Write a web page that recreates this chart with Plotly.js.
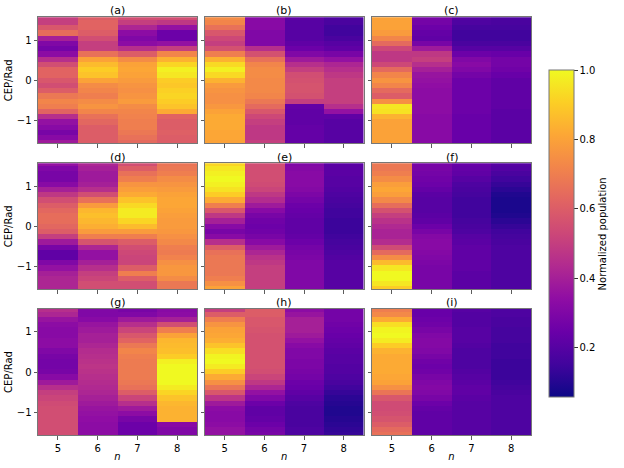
<!DOCTYPE html>
<html>
<head>
<meta charset="utf-8">
<script src="https://cdn.plot.ly/plotly-3.0.1.min.js"></script>
<style>html,body{margin:0;padding:0;background:#fff}#plot{width:624px;height:468px}</style>
</head>
<body>
<div id="plot"></div>
<script>
// Harmonic order n (columns)
const nVals = [5, 6, 7, 8];
// CEP row positions (rad), listed top to bottom
const cepTopDown = [1.571, 1.440, 1.309, 1.178, 1.047, 0.916, 0.785, 0.654, 0.524, 0.393, 0.262, 0.131, 0.000,
  -0.131, -0.262, -0.393, -0.524, -0.654, -0.785, -0.916, -1.047, -1.178, -1.309, -1.440, -1.571];
const yTickVals = [-1, 0, 1];
const yTickText = ['\u22121', '0', '1'];
const cbTickVals = [0.2, 0.4, 0.6, 0.8, 1.0];
const panelLabels = ['(a)', '(b)', '(c)', '(d)', '(e)', '(f)', '(g)', '(h)', '(i)'];

// Normalized population, one array per panel column (n = 5..8), top to bottom
const a5 = [0.50,0.50,0.58,0.65,0.40,0.30,0.27,0.33,0.45,0.55,0.62,0.62,0.58,0.55,0.60,0.68,0.72,0.70,0.62,0.45,0.35,0.32,0.28,0.32,0.38];
const a6 = [0.60,0.62,0.62,0.60,0.55,0.50,0.50,0.66,0.80,0.86,0.90,0.88,0.80,0.74,0.72,0.70,0.74,0.76,0.72,0.66,0.63,0.60,0.60,0.60,0.60];
const a7 = [0.55,0.50,0.42,0.33,0.30,0.33,0.45,0.60,0.74,0.80,0.81,0.80,0.78,0.76,0.75,0.76,0.78,0.74,0.72,0.71,0.70,0.70,0.68,0.66,0.64];
const a8 = [0.55,0.48,0.35,0.25,0.25,0.35,0.50,0.72,0.84,0.92,0.98,0.96,0.90,0.89,0.91,0.92,0.90,0.88,0.82,0.62,0.60,0.60,0.61,0.60,0.60];

const b5 = [0.74,0.72,0.66,0.58,0.53,0.50,0.56,0.70,0.84,0.93,0.98,0.93,0.84,0.78,0.76,0.75,0.75,0.77,0.80,0.82,0.82,0.82,0.81,0.81,0.80];
const b6 = [0.32,0.32,0.32,0.30,0.30,0.30,0.45,0.56,0.66,0.72,0.74,0.74,0.73,0.73,0.73,0.72,0.68,0.64,0.58,0.53,0.50,0.48,0.48,0.48,0.50];
const b7 = [0.22,0.20,0.20,0.20,0.20,0.22,0.25,0.30,0.38,0.45,0.50,0.55,0.56,0.57,0.57,0.56,0.50,0.23,0.22,0.22,0.22,0.23,0.23,0.23,0.23];
const b8 = [0.18,0.17,0.15,0.15,0.17,0.20,0.22,0.28,0.35,0.42,0.45,0.48,0.50,0.50,0.50,0.50,0.50,0.45,0.35,0.22,0.20,0.20,0.20,0.20,0.20];

const c5 = [0.80,0.80,0.80,0.78,0.72,0.64,0.53,0.48,0.48,0.53,0.64,0.72,0.76,0.72,0.64,0.60,0.75,0.96,0.95,0.84,0.80,0.80,0.80,0.80,0.80];
const c6 = [0.28,0.27,0.25,0.23,0.22,0.28,0.38,0.48,0.50,0.45,0.40,0.36,0.35,0.34,0.33,0.33,0.33,0.33,0.33,0.32,0.32,0.32,0.32,0.32,0.32];
const c7 = [0.20,0.18,0.16,0.15,0.15,0.17,0.20,0.25,0.30,0.32,0.30,0.27,0.25,0.25,0.25,0.25,0.25,0.25,0.25,0.24,0.24,0.24,0.24,0.24,0.24];
const c8 = [0.18,0.17,0.16,0.15,0.15,0.17,0.20,0.24,0.27,0.27,0.26,0.24,0.22,0.22,0.22,0.22,0.22,0.22,0.21,0.21,0.21,0.21,0.21,0.21,0.21];

const d5 = [0.35,0.30,0.28,0.28,0.32,0.40,0.48,0.55,0.60,0.63,0.65,0.65,0.63,0.60,0.50,0.38,0.28,0.22,0.22,0.30,0.35,0.40,0.42,0.42,0.42];
const d6 = [0.42,0.40,0.38,0.38,0.40,0.45,0.55,0.66,0.78,0.85,0.87,0.85,0.83,0.78,0.70,0.57,0.42,0.35,0.35,0.40,0.45,0.50,0.52,0.55,0.55];
const d7 = [0.55,0.60,0.66,0.70,0.76,0.79,0.82,0.88,0.93,0.97,0.97,0.92,0.86,0.78,0.70,0.60,0.55,0.53,0.52,0.52,0.60,0.70,0.60,0.55,0.55];
const d8 = [0.67,0.68,0.70,0.74,0.76,0.78,0.80,0.81,0.81,0.80,0.79,0.78,0.78,0.77,0.75,0.73,0.70,0.69,0.71,0.75,0.77,0.77,0.74,0.68,0.68];

const e5 = [0.92,0.96,0.98,1.00,0.98,0.95,0.90,0.82,0.70,0.58,0.48,0.40,0.32,0.28,0.32,0.45,0.60,0.66,0.68,0.68,0.68,0.68,0.70,0.75,0.80];
const e6 = [0.55,0.55,0.55,0.55,0.54,0.52,0.48,0.44,0.38,0.32,0.28,0.26,0.25,0.26,0.28,0.32,0.38,0.42,0.46,0.48,0.50,0.50,0.50,0.50,0.50];
const e7 = [0.30,0.31,0.32,0.32,0.32,0.31,0.29,0.27,0.25,0.24,0.23,0.22,0.22,0.22,0.23,0.25,0.27,0.28,0.29,0.30,0.30,0.30,0.30,0.30,0.30];
const e8 = [0.21,0.21,0.21,0.20,0.20,0.19,0.18,0.17,0.16,0.15,0.15,0.14,0.14,0.14,0.15,0.16,0.17,0.18,0.19,0.20,0.20,0.20,0.20,0.20,0.20];

const f5 = [0.68,0.68,0.70,0.74,0.79,0.81,0.79,0.73,0.65,0.56,0.50,0.46,0.43,0.41,0.41,0.44,0.54,0.64,0.74,0.86,0.96,1.00,1.00,0.96,0.90];
const f6 = [0.28,0.28,0.27,0.26,0.25,0.23,0.21,0.20,0.20,0.20,0.21,0.22,0.25,0.28,0.31,0.32,0.32,0.31,0.30,0.29,0.28,0.28,0.28,0.28,0.28];
const f7 = [0.24,0.23,0.22,0.20,0.18,0.17,0.16,0.15,0.15,0.15,0.15,0.16,0.17,0.18,0.20,0.21,0.22,0.22,0.22,0.22,0.22,0.21,0.21,0.21,0.21];
const f8 = [0.20,0.19,0.17,0.15,0.13,0.11,0.09,0.08,0.08,0.08,0.09,0.11,0.13,0.15,0.16,0.17,0.18,0.18,0.18,0.18,0.18,0.18,0.18,0.18,0.18];

const g5 = [0.45,0.42,0.36,0.33,0.32,0.32,0.33,0.33,0.30,0.28,0.27,0.27,0.28,0.32,0.38,0.45,0.50,0.52,0.54,0.55,0.55,0.55,0.55,0.55,0.55];
const g6 = [0.30,0.30,0.32,0.36,0.38,0.40,0.40,0.42,0.44,0.45,0.46,0.47,0.46,0.45,0.44,0.43,0.42,0.40,0.38,0.36,0.35,0.34,0.33,0.33,0.33];
const g7 = [0.28,0.30,0.38,0.45,0.52,0.58,0.62,0.68,0.72,0.70,0.69,0.69,0.69,0.69,0.68,0.66,0.60,0.52,0.45,0.38,0.33,0.28,0.25,0.25,0.25];
const g8 = [0.32,0.33,0.40,0.55,0.70,0.80,0.85,0.86,0.87,0.90,0.98,1.00,1.00,1.00,1.00,0.97,0.92,0.88,0.85,0.84,0.84,0.84,0.32,0.30,0.30];

const h5 = [0.50,0.60,0.70,0.76,0.80,0.81,0.83,0.88,0.94,0.99,1.00,0.97,0.90,0.82,0.75,0.67,0.58,0.47,0.38,0.33,0.32,0.32,0.33,0.35,0.35];
const h6 = [0.60,0.60,0.58,0.58,0.57,0.56,0.56,0.56,0.56,0.56,0.56,0.56,0.55,0.52,0.48,0.42,0.35,0.30,0.25,0.22,0.22,0.23,0.25,0.27,0.28];
const h7 = [0.33,0.36,0.40,0.40,0.40,0.38,0.35,0.32,0.30,0.30,0.29,0.29,0.28,0.27,0.25,0.24,0.22,0.20,0.18,0.17,0.17,0.17,0.17,0.18,0.18];
const h8 = [0.27,0.27,0.27,0.26,0.25,0.24,0.23,0.22,0.21,0.20,0.20,0.19,0.19,0.18,0.17,0.15,0.13,0.11,0.10,0.09,0.09,0.10,0.11,0.12,0.13];

const i5 = [0.70,0.73,0.82,0.94,0.99,1.00,0.97,0.90,0.84,0.82,0.82,0.82,0.82,0.81,0.80,0.75,0.67,0.58,0.54,0.54,0.55,0.57,0.60,0.64,0.66];
const i6 = [0.24,0.24,0.25,0.26,0.28,0.30,0.31,0.31,0.30,0.28,0.26,0.25,0.26,0.28,0.30,0.31,0.30,0.28,0.25,0.23,0.22,0.22,0.22,0.22,0.22];
const i7 = [0.20,0.19,0.19,0.19,0.20,0.20,0.20,0.19,0.18,0.18,0.18,0.18,0.19,0.20,0.21,0.22,0.22,0.21,0.20,0.20,0.20,0.20,0.20,0.20,0.20];
const i8 = [0.18,0.18,0.17,0.17,0.16,0.16,0.16,0.15,0.15,0.15,0.14,0.14,0.14,0.14,0.15,0.16,0.17,0.18,0.18,0.18,0.18,0.18,0.18,0.18,0.18];

const panels = [
  [a5, a6, a7, a8], [b5, b6, b7, b8], [c5, c6, c7, c8],
  [d5, d6, d7, d8], [e5, e6, e7, e8], [f5, f6, f7, f8],
  [g5, g6, g7, g8], [h5, h6, h7, h8], [i5, i6, i7, i8]
];

const plasma = [
  [0.0, '#0d0887'], [0.1, '#41049d'], [0.2, '#6a00a8'], [0.3, '#8f0da4'],
  [0.4, '#b12a90'], [0.5, '#cc4778'], [0.6, '#e16462'], [0.7, '#f2844b'],
  [0.8, '#fca636'], [0.9, '#fcce25'], [1.0, '#f0f921']
];

const W = 624, H = 468;
const colPx = [[38, 197], [205, 363.5], [372, 531]];
const rowPx = [[17.3, 143.3], [163.3, 289.3], [309, 435]];
const xDom = c => [colPx[c][0] / W, colPx[c][1] / W];
const yDom = r => [1 - rowPx[r][1] / H, 1 - rowPx[r][0] / H];

const font = {family: 'DejaVu Sans', size: 10, color: '#000'};
const yAsc = cepTopDown.slice().reverse();

const data = [];
const layout = {
  width: W, height: H,
  margin: {l: 0, r: 0, t: 0, b: 0},
  paper_bgcolor: '#fff', plot_bgcolor: '#fff',
  font: font,
  showlegend: false,
  coloraxis: {
    colorscale: plasma, cmin: 0.055, cmax: 1.0,
    colorbar: {
      x: 549 / W, xanchor: 'left', xpad: 0, ypad: 0,
      y: 1 - 233.9 / H, yanchor: 'middle',
      len: 326.8 / H, lenmode: 'fraction',
      thickness: 25, thicknessmode: 'pixels',
      outlinewidth: 1, outlinecolor: '#777',
      tickvals: cbTickVals, tickformat: '.1f',
      ticks: 'outside', ticklen: 3.5, tickcolor: '#333',
      tickfont: {family: 'DejaVu Sans', size: 10, color: '#000'},
      title: {text: 'Normalized population', side: 'right',
              font: {family: 'DejaVu Sans', size: 10, color: '#000'}}
    }
  },
  annotations: []
};

for (let p = 0; p < 9; p++) {
  const r = Math.floor(p / 3), c = p % 3;
  const cols = panels[p];
  const z = [];
  for (let k = cepTopDown.length - 1; k >= 0; k--) {
    z.push(cols.map(col => col[k]));
  }
  const idx = p === 0 ? '' : String(p + 1);
  data.push({
    type: 'heatmap', x: nVals, y: yAsc, z: z,
    coloraxis: 'coloraxis',
    xaxis: 'x' + idx, yaxis: 'y' + idx,
    hoverinfo: 'x+y+z'
  });
  layout['xaxis' + idx] = {
    domain: xDom(c), anchor: 'y' + idx,
    range: [4.5, 8.5], tickvals: nVals,
    showticklabels: r === 2,
    ticks: 'outside', ticklen: 3.5, tickcolor: '#333', tickwidth: 0.8,
    showline: true, mirror: true, linecolor: '#777', linewidth: 1,
    showgrid: false, zeroline: false,
    tickfont: font,
    title: r === 2 ? {text: '<i>n</i>', font: font, standoff: 0} : {text: ''}
  };
  layout['yaxis' + idx] = {
    domain: yDom(r), anchor: 'x' + idx,
    range: [-Math.PI / 2, Math.PI / 2],
    tickvals: yTickVals, ticktext: yTickText,
    showticklabels: c === 0,
    ticks: 'outside', ticklen: 3.5, tickcolor: '#333', tickwidth: 0.8,
    showline: true, mirror: true, linecolor: '#777', linewidth: 1,
    showgrid: false, zeroline: false,
    tickfont: font,
    title: c === 0 ? {text: 'CEP/Rad', font: font, standoff: 2} : {text: ''}
  };
  const titleY = [10.7, 157.3, 302.3][r];
  layout.annotations.push({
    text: panelLabels[p], xref: 'paper', yref: 'paper',
    x: (colPx[c][0] + colPx[c][1]) / 2 / W, y: 1 - titleY / H,
    xanchor: 'center', yanchor: 'middle', showarrow: false,
    font: {family: 'DejaVu Sans', size: 11, color: '#000'}
  });
}

Plotly.newPlot('plot', data, layout, {displayModeBar: false, staticPlot: true});
</script>
</body>
</html>
